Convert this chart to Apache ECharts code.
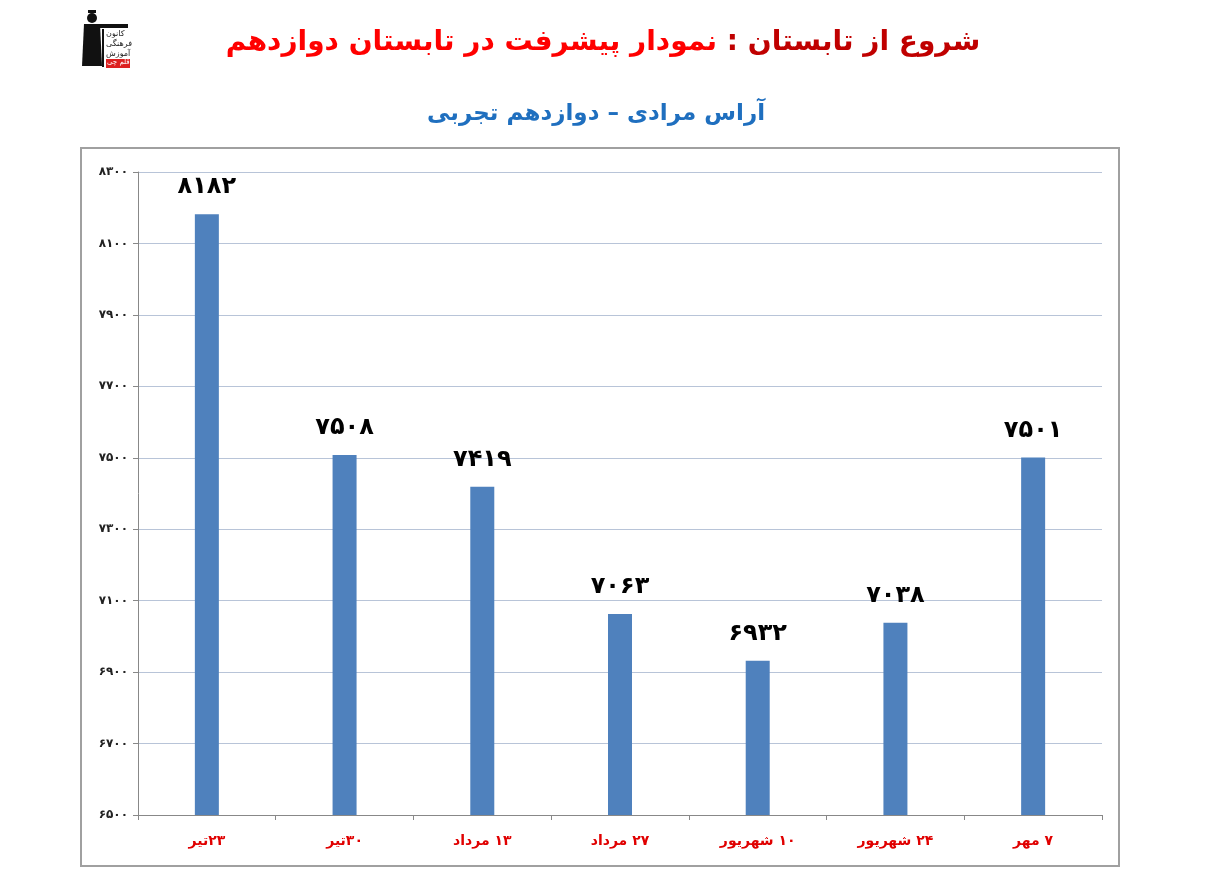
<!DOCTYPE html>
<html><head><meta charset="utf-8">
<script src="https://cdn.jsdelivr.net/npm/echarts@6/dist/echarts.min.js"></script>
<style>html,body{margin:0;padding:0;background:#fff}#c{width:1211px;height:877px}</style>
</head><body><div id="c"></div>
<script>
const categories = ['۲۳تیر', '۳۰تیر', '۱۳ مرداد', '۲۷ مرداد', '۱۰ شهریور', '۲۴ شهریور', '۷ مهر'];
const scores = [8182, 7508, 7419, 7063, 6932, 7038, 7501];
const yMin = 6500, yMax = 8300, yStep = 200;
const titleStart = 'شروع از تابستان :';
const titleRest = 'نمودار پیشرفت در تابستان دوازدهم';
const subtitleText = 'آراس مرادی – دوازدهم تجربی';

const fa = n => String(n).replace(/[0-9]/g, d => '۰۱۲۳۴۵۶۷۸۹'[+d]);
const rtl = s => '\u202B' + s + '\u202C';
const FONT = '"DejaVu Sans", sans-serif';

const chart = echarts.init(document.getElementById('c'));
chart.setOption({
  animation: false,
  backgroundColor: '#fff',
  title: [
    {text: '{b|' + rtl(titleRest) + '} {a|' + rtl(titleStart) + '}', left: 598, top: 24, textAlign: 'center',
     textStyle: {fontSize: 28, fontWeight: 'bold', fontFamily: FONT,
       rich: {
         a: {color: '#c00000', fontSize: 28, fontWeight: 'bold', fontFamily: FONT},
         b: {color: '#ff0000', fontSize: 28, fontWeight: 'bold', fontFamily: FONT}
       }}},
    {text: rtl(subtitleText), left: 591, top: 98, textAlign: 'center',
     textStyle: {color: '#1f6fbf', fontSize: 23, fontWeight: 'bold', fontFamily: FONT}}
  ],
  graphic: [
    {type: 'rect', shape: {x: 81, y: 148, width: 1038, height: 718},
     style: {fill: 'none', stroke: '#a0a0a0', lineWidth: 2}, silent: true},
    // logo approximation
    {type: 'group', left: 82, top: 10, children: [
      {type: 'rect', shape: {x: 8, y: 8, width: 8, height: 3}, style: {fill: '#111'}},
      {type: 'circle', shape: {cx: 12, cy: 16, r: 5}, style: {fill: '#111'}},
      {type: 'polygon', shape: {points: [[4,22],[20,22],[22,64],[2,64]]}, style: {fill: '#111'}},
      {type: 'rect', shape: {x: 18, y: 22, width: 30, height: 4}, style: {fill: '#111'}},
      {type: 'rect', shape: {x: 22, y: 27, width: 2, height: 38}, style: {fill: '#111'}},
      {type: 'text', style: {x: 26, y: 28, text: 'کانون', fontSize: 8, fill: '#222', fontFamily: FONT}},
      {type: 'text', style: {x: 26, y: 38, text: 'فرهنگی', fontSize: 8, fill: '#222', fontFamily: FONT}},
      {type: 'text', style: {x: 26, y: 48, text: 'آموزش', fontSize: 8, fill: '#222', fontFamily: FONT}},
      {type: 'rect', shape: {x: 26, y: 57, width: 24, height: 9}, style: {fill: '#d22'}},
      {type: 'text', style: {x: 27, y: 57, text: 'قلم چی', fontSize: 7, fill: '#fff', fontFamily: FONT}}
    ]}
  ],
  grid: {left: 138, right: 109, top: 172, bottom: 62, containLabel: false},
  xAxis: {
    type: 'category', data: categories,
    axisLine: {lineStyle: {color: '#888', width: 1}},
    axisTick: {show: true, alignWithLabel: false, length: 5, lineStyle: {color: '#888'}},
    axisLabel: {color: '#e00000', fontSize: 14, fontWeight: 'bold', fontFamily: FONT, margin: 19,
      formatter: v => rtl(v)},
  },
  yAxis: {
    type: 'value', min: yMin, max: yMax, interval: yStep,
    axisLine: {show: true, lineStyle: {color: '#888'}},
    axisTick: {show: true, length: 5, lineStyle: {color: '#888'}},
    axisLabel: {color: '#222', fontSize: 12, fontWeight: 'bold', fontFamily: FONT, margin: 10,
      formatter: v => fa(v)},
    splitLine: {lineStyle: {color: '#b8c4d8', width: 1}}
  },
  series: [{
    type: 'bar', data: scores, barWidth: 24,
    itemStyle: {color: '#4f81bd'},
    label: {show: true, position: 'top', distance: 15, color: '#000', fontSize: 24, fontWeight: 'bold',
      fontFamily: FONT, formatter: p => fa(p.value)}
  }]
});
</script></body></html>
